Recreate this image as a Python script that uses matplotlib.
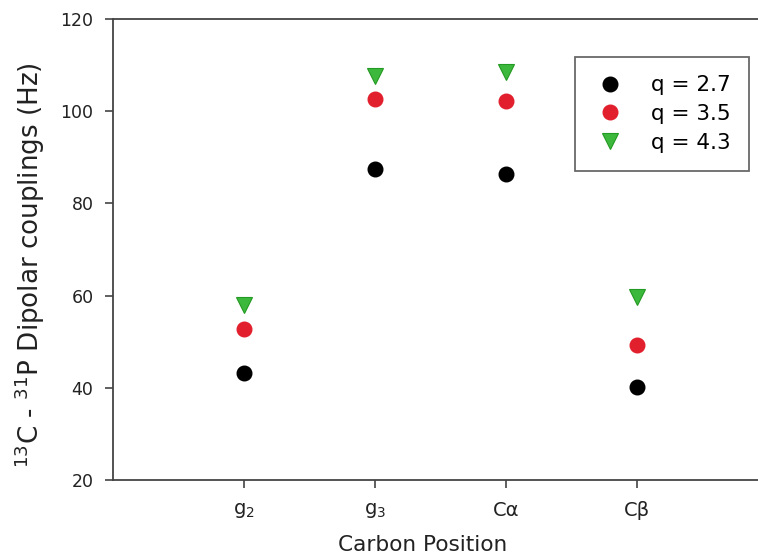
import numpy as np
import matplotlib
matplotlib.use("Agg")
import matplotlib.pyplot as plt

positions = ["g$_2$", "g$_3$", "C\u03b1", "C\u03b2"]
q_labels = ["q = 2.7", "q = 3.5", "q = 4.3"]
q27 = [43.2, 87.4, 86.3, 40.3]
q35 = [52.7, 102.6, 102.2, 49.3]
q43 = [58.0, 107.7, 108.6, 59.7]

plt.rcParams["font.family"] = "DejaVu Sans"
plt.rcParams["mathtext.default"] = "regular"

fig = plt.figure(figsize=(7.58, 5.59), dpi=100)
ax = fig.add_axes([0.149, 0.141, 0.851, 0.825])

x = np.arange(1, len(positions) + 1)
ax.plot(x, q27, "o", ms=10.5, color="black", mec="black", label=q_labels[0])
ax.plot(x, q35, "o", ms=10.5, color="#e21f2d", mec="#e21f2d", label=q_labels[1])
ax.plot(x, q43, "v", ms=11.5, color="#3cb83c", mec="#239a23", mew=0.8, label=q_labels[2])

ax.set_xlim(0, 4.92)
ax.set_ylim(20, 120)
ax.set_yticks(np.arange(20, 121, 20))
ax.set_xticks(x)
ax.set_xticklabels(positions)

for side in ["left", "bottom", "top"]:
    ax.spines[side].set_color("#444444")
    ax.spines[side].set_linewidth(1.3)
ax.spines["right"].set_visible(False)

ax.tick_params(axis="both", direction="out", length=6, width=1.2, color="#444444",
               labelcolor="#222222")
ax.tick_params(axis="x", pad=9, labelsize=14)
ax.tick_params(axis="y", pad=8, labelsize=12.5)

ax.set_xlabel("Carbon Position", fontsize=15.6, color="#222222")
ax.xaxis.set_label_coords(0.48, -0.141)
ax.xaxis.label.set_va("center")
ax.set_ylabel("$^{13}$C - $^{31}$P Dipolar couplings (Hz)", fontsize=18.8, color="#222222")
ax.yaxis.set_label_coords(-0.129, 0.467)
ax.yaxis.label.set_va("center")

leg = ax.legend(loc="upper left", bbox_to_anchor=(0.716, 0.9176), fontsize=15.5,
                frameon=True, fancybox=False, handletextpad=1.07, borderpad=0.85,
                labelspacing=0.4, handlelength=1.6, borderaxespad=0)
leg.get_frame().set_edgecolor("#444444")
leg.get_frame().set_linewidth(1.3)

fig.savefig("out.png", dpi=100)
